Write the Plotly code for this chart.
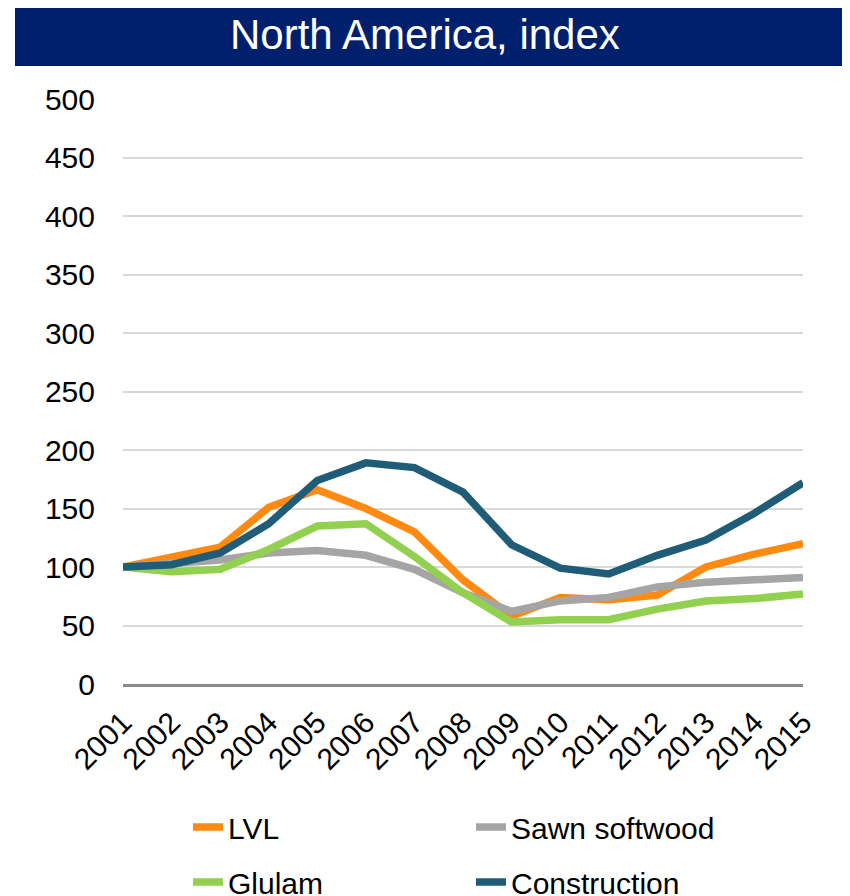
import plotly.graph_objects as go

years = list(range(2001, 2016))
lvl = [100, 109, 117, 151, 166, 150, 130, 89, 58, 74, 72, 76, 100, 111, 120]
sawn = [100, 103, 106, 112, 114, 110, 98, 78, 62, 71, 74, 83, 87, 89, 91]
glulam = [100, 96, 98, 115, 135, 137, 109, 78, 53, 55, 55, 64, 71, 73, 77]
construction = [100, 102, 112, 137, 174, 189, 185, 164, 119, 99, 94, 110, 123, 146, 172]
y_ticks = list(range(0, 501, 50))

colors = {"LVL": "#FF8A12", "Sawn softwood": "#A5A5A5", "Glulam": "#92D050", "Construction": "#1F5C78"}

fig = go.Figure()
series = [("LVL", lvl, "legend"), ("Sawn softwood", sawn, "legend"),
          ("Glulam", glulam, "legend2"), ("Construction", construction, "legend2")]
for name, vals, lg in series:
    fig.add_trace(go.Scatter(x=years, y=vals, name=name, mode="lines",
                             line=dict(color=colors[name], width=7.5),
                             legend=lg))

font_family = "Liberation Sans, Arial, sans-serif"
W, H = 850, 896
OFF = 8  # page body margin offset
L, T, PW, PH = 123 - OFF, 99 - OFF, 680, 585

legend_common = dict(orientation="h", font=dict(family=font_family, size=30, color="black"),
                     entrywidth=238, entrywidthmode="pixels", bgcolor="rgba(0,0,0,0)",
                     xanchor="left", yanchor="middle", itemwidth=30, traceorder="normal",
                     xref="container", yref="container")

def px_x(x):
    return (x - OFF - L) / PW

def px_y(y):
    return 1 - (y - OFF - T) / PH

fig.update_layout(
    width=W, height=H,
    margin=dict(l=L, r=W - L - PW, t=T, b=H - T - PH, autoexpand=False),
    paper_bgcolor="white", plot_bgcolor="white",
    showlegend=True,
    legend=dict(**legend_common, x=(180) / W, y=1 - (827 - OFF) / H),
    legend2=dict(**legend_common, x=(180) / W, y=1 - (882 - OFF) / H),
    xaxis=dict(range=[2001, 2015], tickmode="array", tickvals=years,
               ticktext=[str(y) for y in years], tickangle=-45,
               tickfont=dict(family=font_family, size=30, color="black"),
               showgrid=False, zeroline=False, showline=True, automargin=False,
               linecolor="#898989", linewidth=2.5, ticks="", ticklabelstandoff=6),
    yaxis=dict(range=[0, 500], tickmode="array", tickvals=y_ticks,
               tickfont=dict(family=font_family, size=30, color="black"),
               showgrid=True, gridcolor="#D9D9D9", gridwidth=2, automargin=False,
               zeroline=False, showline=False, ticks="", ticklabelstandoff=27),
    shapes=[dict(type="rect", xref="paper", yref="paper",
                 x0=px_x(15), x1=px_x(860),
                 y0=px_y(66), y1=px_y(0),
                 fillcolor="#001F6D", line=dict(width=0), layer="above")],
    annotations=[dict(text="North America, index", xref="paper", yref="paper",
                      x=px_x(425), y=px_y(35),
                      xanchor="center", yanchor="middle", showarrow=False,
                      font=dict(family=font_family, size=42, color="white"))],
)

fig.write_html("out.html")
